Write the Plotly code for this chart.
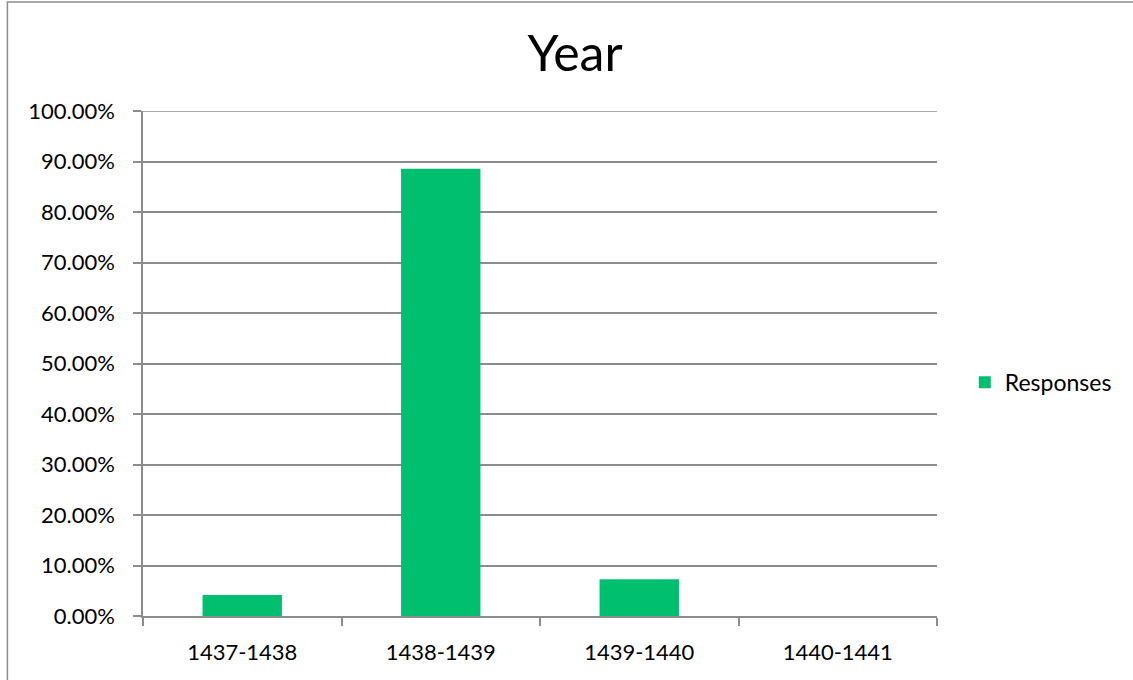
import plotly.graph_objects as go

categories = ["1437-1438", "1438-1439", "1439-1440", "1440-1441"]
responses = [0.0417, 0.8854, 0.0729, 0.0]
y_ticks = [0, 0.1, 0.2, 0.3, 0.4, 0.5, 0.6, 0.7, 0.8, 0.9, 1.0]

FONT = "Lato, 'Open Sans', sans-serif"
GRAY = "#8c8c8c"

fig = go.Figure()
fig.add_trace(go.Bar(
    x=categories, y=responses, name="Responses",
    marker=dict(color="#00BF6F", line=dict(width=0)),
    showlegend=True,
))

fig.update_layout(
    width=1133, height=680,
    margin=dict(l=143, r=196, t=111, b=64),
    paper_bgcolor="white", plot_bgcolor="white",
    title=dict(text="Year", x=575 / 1133, xanchor="center", y=1 - 53 / 680, yanchor="middle",
               font=dict(family=FONT, size=50, color="black")),
    bargap=0.6,
    showlegend=True,
    legend=dict(x=1.035, y=0.463, xanchor="left", yanchor="middle",
                font=dict(family=FONT, size=23, color="black"),
                itemwidth=30),
    font=dict(family=FONT, size=22, color="black"),
)

fig.update_xaxes(
    type="category", tickson="boundaries", ticks="outside", ticklen=8,
    tickcolor=GRAY, tickwidth=1.5, showline=True, linecolor=GRAY, linewidth=1.5,
    showgrid=False, tickfont=dict(family=FONT, size=22, color="black"),
    ticklabelstandoff=16,
    fixedrange=True,
)
fig.update_yaxes(
    range=[0, max(y_ticks)], tickvals=y_ticks, tickformat=".2%", ticks="outside", ticklen=8,
    tickcolor=GRAY, tickwidth=1.5, showline=True, linecolor=GRAY, linewidth=1.5,
    showgrid=True, gridcolor=GRAY, gridwidth=1.5, zeroline=False,
    tickfont=dict(family=FONT, size=22, color="black"),
    ticklabelstandoff=14,
    fixedrange=True,
)

# top gridline at the maximum tick (plotly drops the gridline at the range edge)
fig.add_shape(type="line", xref="paper", yref="y", x0=0, x1=1, y0=max(y_ticks), y1=max(y_ticks),
              line=dict(color=GRAY, width=1.5), layer="below")

# outer chart border (extends beyond right/bottom edges as in the reference)
fig.add_shape(type="rect", xref="paper", yref="paper",
              x0=(7.5 - 143) / 793.5, x1=1.4, y0=-0.3, y1=(616 - 2) / 505,
              line=dict(color=GRAY, width=1.5), fillcolor="rgba(0,0,0,0)", layer="below")

fig.write_html("out.html", config={"displayModeBar": False},
               post_script="document.body.style.margin='0';document.body.style.overflow='hidden';")
